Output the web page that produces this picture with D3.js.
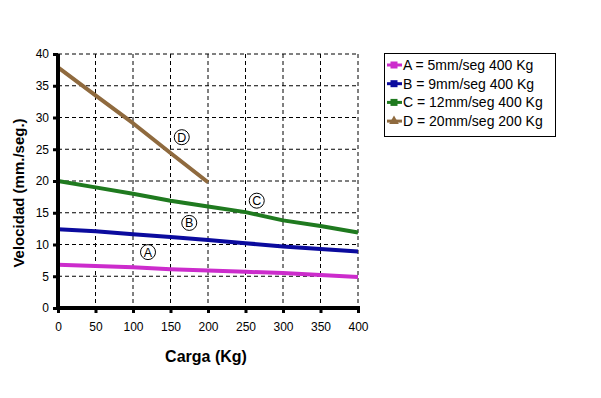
<!DOCTYPE html>
<html><head><meta charset="utf-8">
<script src="https://cdn.jsdelivr.net/npm/d3@7"></script>
<style>body{margin:0;background:#fff}svg{display:block;font-family:"Liberation Sans",Arial,sans-serif}</style>
</head><body><svg id="c" width="601" height="398"></svg>
<script>
const loads = [0, 50, 100, 150, 200, 250, 300, 350, 400];
const loadsD = [0, 50, 100, 150, 200];
const seriesA = [6.8, 6.6, 6.4, 6.1, 5.9, 5.7, 5.5, 5.2, 4.9];
const seriesB = [12.4, 12.1, 11.6, 11.2, 10.7, 10.2, 9.7, 9.3, 8.9];
const seriesC = [20.0, 19.0, 18.0, 16.9, 16.0, 15.1, 13.8, 12.9, 11.9];
const seriesD = [37.9, 33.5, 29.1, 24.4, 19.8];
const legendLabels = ["A = 5mm/seg 400 Kg", "B = 9mm/seg 400 Kg", "C = 12mm/seg 400 Kg", "D = 20mm/seg 200 Kg"];
const tagLetters = ["A", "B", "C", "D"];
const tagLoad = [120, 175, 265, 165];
const tagVel = [8.8, 13.4, 16.9, 26.9];
const xTicks = [0, 50, 100, 150, 200, 250, 300, 350, 400];
const yTicks = [0, 5, 10, 15, 20, 25, 30, 35, 40];
const xTitle = "Carga (Kg)";
const yTitle = "Velocidad (mm./seg.)";

const colors = ["#cc2ccc", "#0b0b9e", "#1f7a1f", "#8f6a3e"];
const svg = d3.select("#c");
const L = 58, R = 358, T = 54, B = 308;
const x = d3.scaleLinear().domain([0, 400]).range([L, R]);
const y = d3.scaleLinear().domain([0, 40]).range([B, T]);

// grid
const g = svg.append("g");
g.selectAll(".vx").data(xTicks.slice(1)).join("line")
  .attr("x1", d => x(d)).attr("x2", d => x(d)).attr("y1", T).attr("y2", B)
  .attr("stroke", "#000").attr("stroke-width", 1).attr("stroke-dasharray", "4,3");
g.selectAll(".hy").data(yTicks.slice(1)).join("line")
  .attr("x1", L).attr("x2", R).attr("y1", d => y(d)).attr("y2", d => y(d))
  .attr("stroke", "#000").attr("stroke-width", 1).attr("stroke-dasharray", "4,3");

// series
const line = d3.line().x(d => x(d[0])).y(d => y(d[1]));
const all = [
  loads.map((l, i) => [l, seriesA[i]]),
  loads.map((l, i) => [l, seriesB[i]]),
  loads.map((l, i) => [l, seriesC[i]]),
  loadsD.map((l, i) => [l, seriesD[i]])
];
all.forEach((s, i) => {
  svg.append("path").datum(s).attr("d", line).attr("fill", "none")
    .attr("stroke", colors[i]).attr("stroke-width", 4).attr("stroke-linejoin", "round");
});

// axes
const xa = svg.append("g").attr("transform", `translate(0,${B})`)
  .call(d3.axisBottom(x).tickValues(xTicks).tickSize(5).tickPadding(9));
const ya = svg.append("g").attr("transform", `translate(${L},0)`)
  .call(d3.axisLeft(y).tickValues(yTicks).tickSize(5).tickPadding(4));
[xa, ya].forEach(a => {
  a.select(".domain").attr("stroke", "#000").attr("stroke-width", 4);
  a.selectAll(".tick line").attr("stroke", "#000").attr("stroke-width", 3);
  a.selectAll(".tick text").attr("font-size", 12).attr("fill", "#000")
    .attr("font-family", "Liberation Sans, Arial, sans-serif");
});
xa.select(".domain").attr("d", `M${L - 2},0H${R + 2}`);
ya.select(".domain").attr("d", `M0,${T}V${B + 2}`);

// titles
svg.append("text").attr("x", 206).attr("y", 362).attr("text-anchor", "middle")
  .attr("font-size", 16).attr("font-weight", "bold").text(xTitle);
svg.append("text").attr("transform", "translate(24,193) rotate(-90)").attr("text-anchor", "middle")
  .attr("font-size", 15).attr("font-weight", "bold").text(yTitle);

// circled tags
tagLetters.forEach((t, i) => {
  svg.append("circle").attr("cx", x(tagLoad[i])).attr("cy", y(tagVel[i])).attr("r", 7.5)
    .attr("fill", "none").attr("stroke", "#000").attr("stroke-width", 1);
  svg.append("text").attr("x", x(tagLoad[i])).attr("y", y(tagVel[i]) + 4.5)
    .attr("text-anchor", "middle").attr("font-size", 12.5).text(t);
});

// legend
const lg = svg.append("g");
lg.append("rect").attr("x", 384.5).attr("y", 53.5).attr("width", 171).attr("height", 83)
  .attr("fill", "#fff").attr("stroke", "#000").attr("stroke-width", 1);
legendLabels.forEach((lab, i) => {
  const cy = 65 + i * 18.7;
  lg.append("line").attr("x1", 387).attr("x2", 402).attr("y1", cy).attr("y2", cy)
    .attr("stroke", colors[i]).attr("stroke-width", 3);
  if (i < 3) {
    lg.append("rect").attr("x", 390.5).attr("y", cy - 3.5).attr("width", 7).attr("height", 7).attr("fill", colors[i]);
  } else {
    lg.append("path").attr("d", d3.symbol(d3.symbolTriangle, 40)()).attr("transform", `translate(394,${cy})`).attr("fill", colors[i]);
  }
  lg.append("text").attr("x", 403).attr("y", cy + 5).attr("font-size", 14).text(lab);
});
</script></body></html>
